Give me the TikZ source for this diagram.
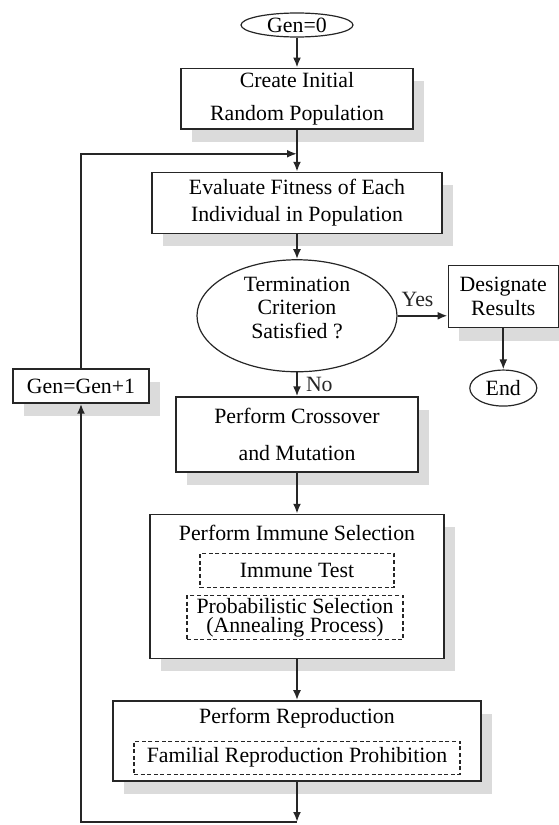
\documentclass[tikz,border=0pt]{standalone}
\usepackage{fontspec}
\setmainfont{Liberation Serif}
\usetikzlibrary{positioning,shapes.geometric,arrows.meta,shadows}
\newcommand{\fs}[1]{\fontsize{10.9}{#1}\selectfont}
\tikzset{
box/.style={draw=black!85,line width=0.7pt,fill=white,align=center,inner sep=2pt,
  drop shadow={shadow xshift=5.5pt,shadow yshift=-6.5pt,fill=black!14,opacity=1}},
dbox/.style={draw=black!85,line width=0.55pt,dash pattern=on 2pt off 1.3pt,align=center,inner sep=1pt},
oval/.style={ellipse,draw=black!85,line width=0.6pt,align=center,inner sep=0pt},
arr/.style={-{Latex[length=5pt,width=4pt]},line width=1pt,black!85},
lbl/.style={inner sep=4pt}
}
\begin{document}
\begin{tikzpicture}[x=1pt,y=1pt,every node/.style={font=\fs{13}}]
\useasboundingbox (0,0) rectangle (279,-412.5);
\node[oval,minimum width=56pt,minimum height=12pt] (g0) at (148.5,-12.5) {Gen=0};
\node[box,minimum width=116pt,minimum height=30pt,below=15pt of g0,font=\fs{16.5}] (init) {Create Initial\\Random Population};
\node[box,minimum width=145pt,minimum height=30.5pt,below=21pt of init,font=\fs{13.5}] (eval) {Evaluate Fitness of Each\\Individual in Population};
% decision
\node[oval,minimum width=100pt,minimum height=56pt,below=12.5pt of eval] (term) {};
\node[font=\fs{11.75},align=center] (termt) at ([yshift=4pt]term.center) {Termination\\Criterion\\Satisfied ?};
\node[box,minimum width=55pt,minimum height=31pt,right=25pt of term,yshift=9.5pt,font=\fs{12}] (desig) {Designate\\Results};
\node[oval,minimum width=33.5pt,minimum height=18pt,below=20.5pt of desig] (fin) {End};
\node[box,minimum width=68pt,minimum height=17pt] (inc) at (40.5,-193) {Gen=Gen+1};
\node[box,minimum width=121pt,minimum height=37.5pt,below=12pt of term,font=\fs{18.5}] (cross) {Perform Crossover\\and Mutation};
% immune selection block
\node[box,minimum width=147pt,minimum height=72pt,below=20.5pt of cross] (immu) {};
\node (immt) at ([yshift=-9.5pt]immu.north) {Perform Immune Selection};
\node[dbox,minimum width=97pt,minimum height=17pt] (itest) at ([yshift=-28.5pt]immu.north) {Immune Test};
\node[dbox,minimum width=108pt,minimum height=22pt,font=\fs{9.5}] (prob) at ([xshift=-1pt,yshift=-52pt]immu.north) {Probabilistic Selection\\(Annealing Process)};
% reproduction block
\node[box,minimum width=184pt,minimum height=40pt,below=20.5pt of immu] (repro) {};
\node (rept) at ([yshift=-9pt]repro.north) {Perform Reproduction};
\node[dbox,minimum width=163pt,minimum height=16.5pt] (fam) at ([yshift=-28.75pt]repro.north) {Familial Reproduction Prohibition};
\coordinate[below=12pt of init] (top);
\coordinate (bot) at (repro.south |- 0,-411);
\draw[arr] (g0) -- (init);
\draw[arr] (init) -- (eval);
\draw[arr] (eval) -- (term);
\draw[arr] (term.east) -- node[above,lbl,pos=0.4]{Yes} (term.east -| desig.west);
\draw[arr] (desig) -- (fin);
\draw[arr] (term) -- node[right,lbl]{No} (cross);
\draw[arr] (cross) -- (immu);
\draw[arr] (immu) -- (repro);
\draw[arr] (repro) -- (bot);
\draw[arr] (bot) -| (inc);
\draw[arr] (inc) |- (top);
\end{tikzpicture}
\end{document}
